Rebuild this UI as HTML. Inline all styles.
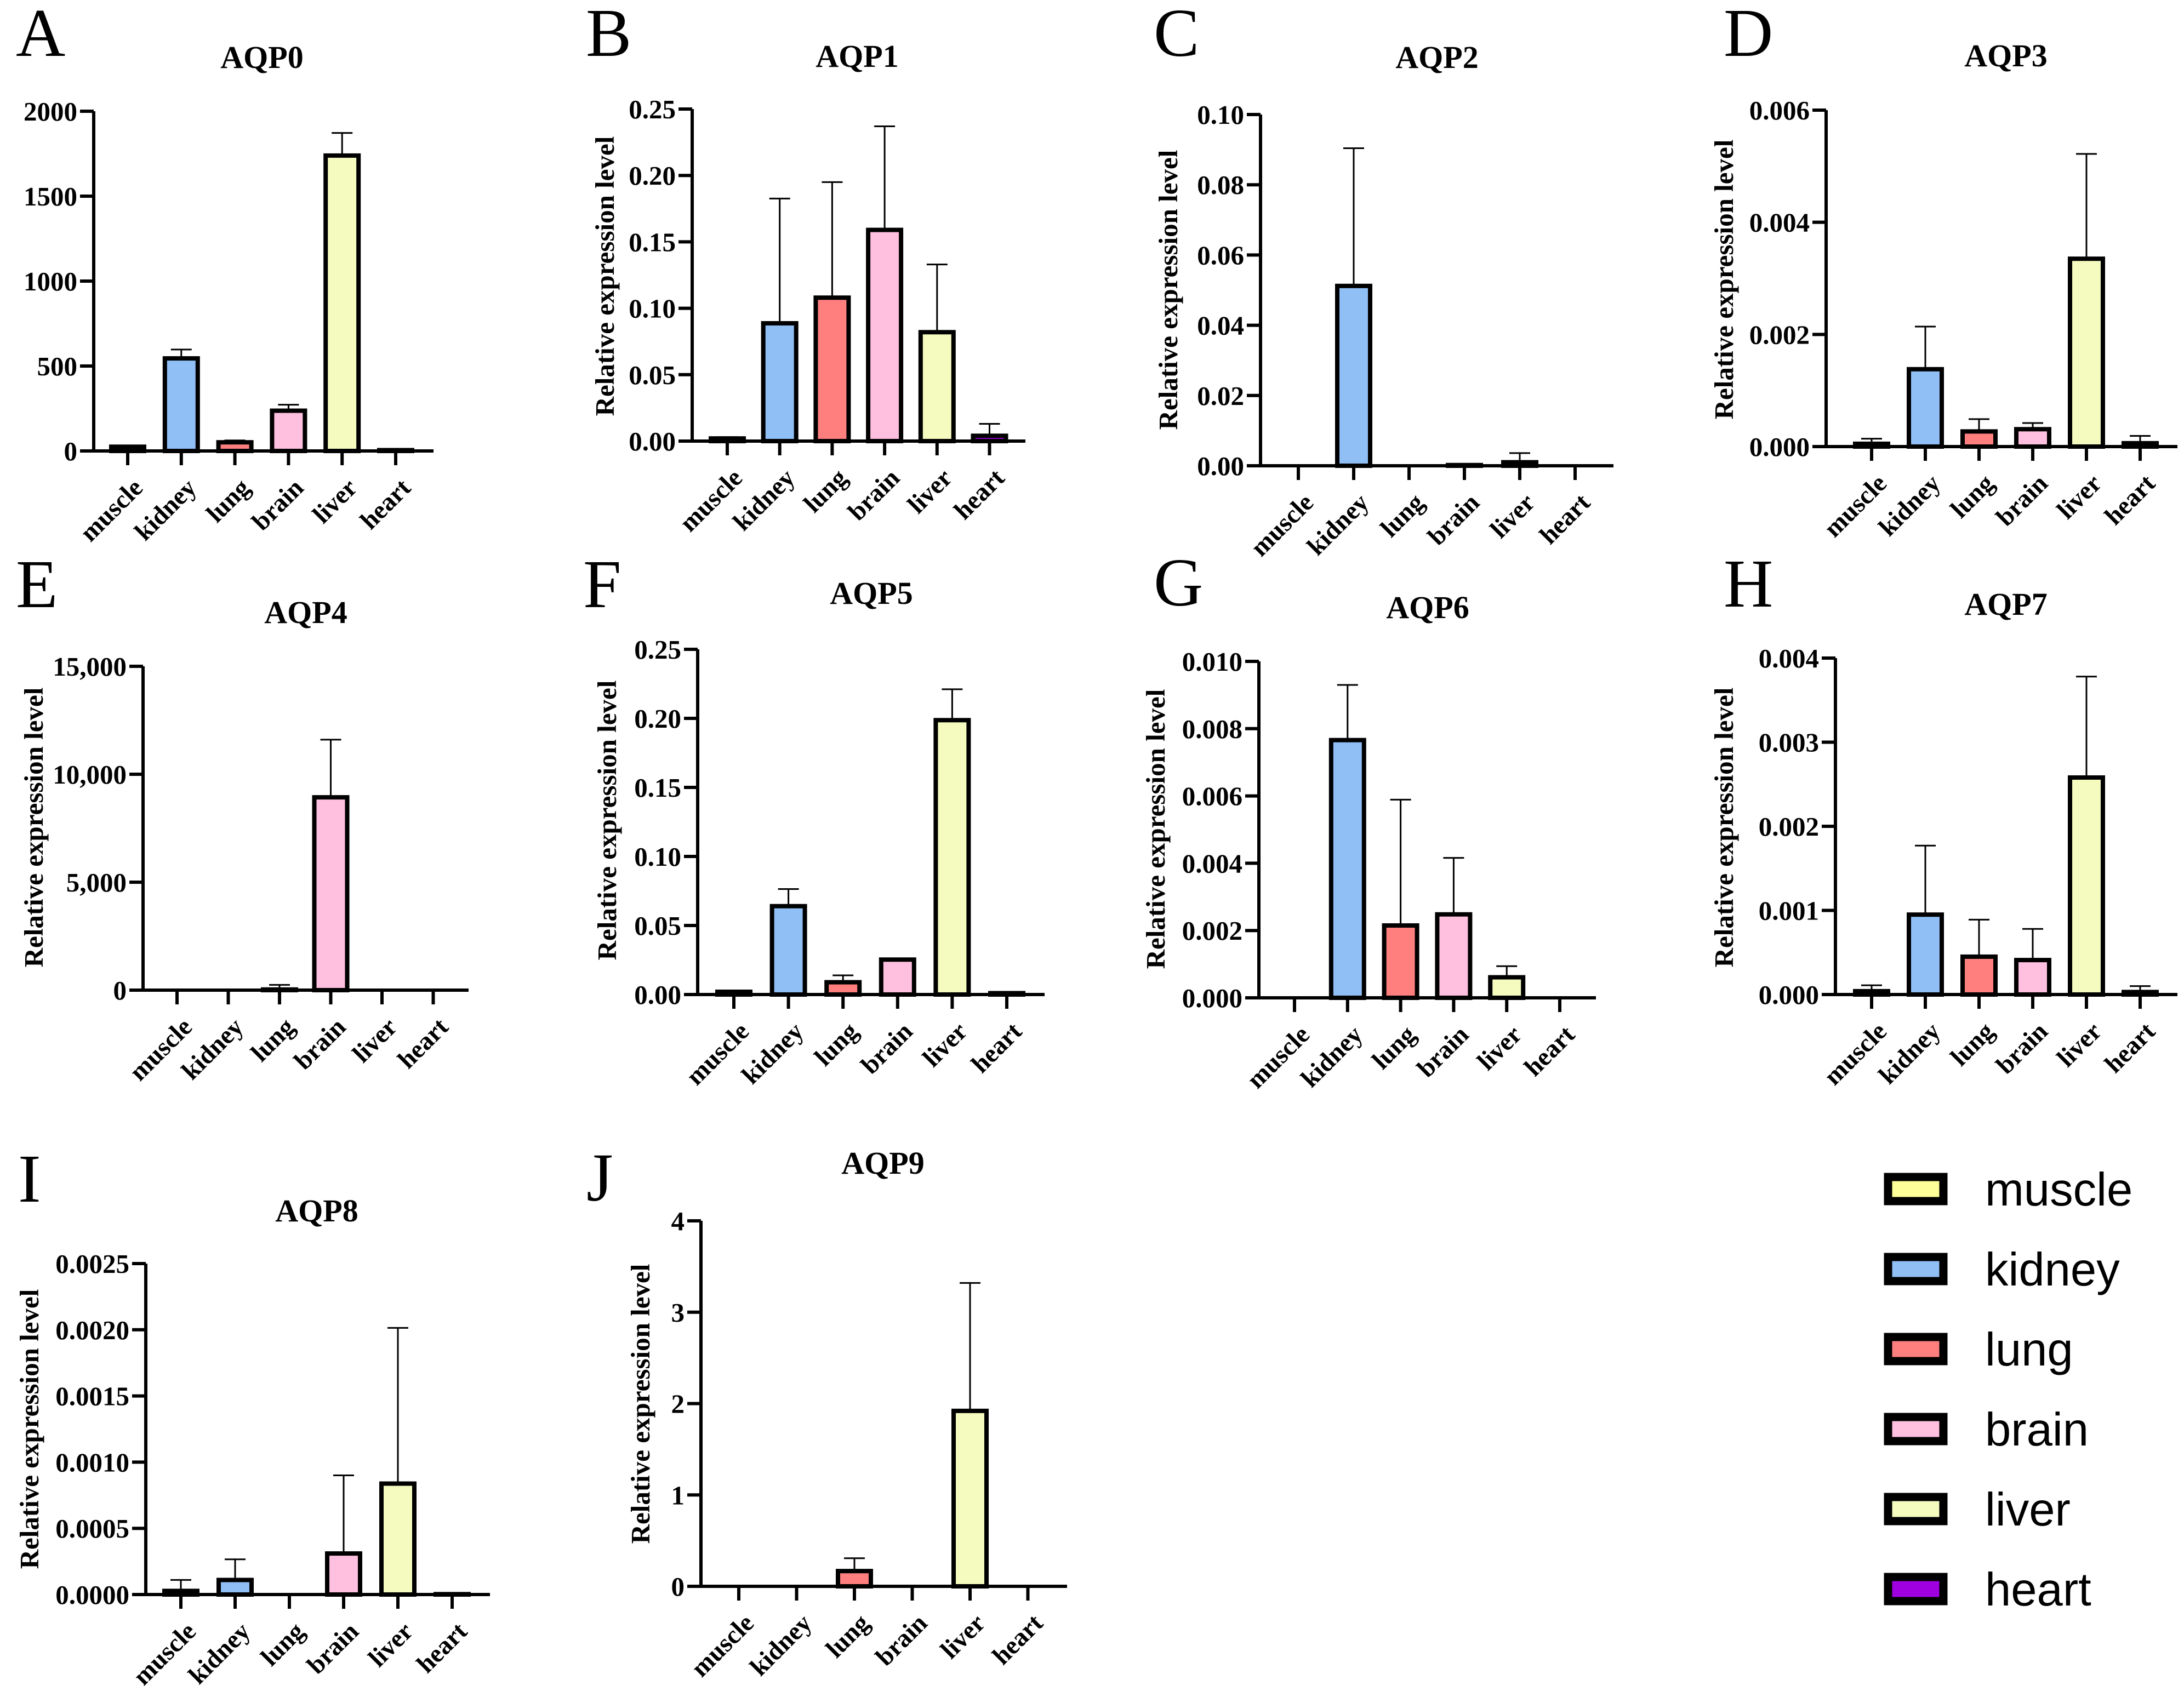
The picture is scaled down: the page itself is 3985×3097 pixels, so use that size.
<!DOCTYPE html>
<html><head><meta charset="utf-8"><style>
html,body{margin:0;padding:0;background:#fff}
svg text{font-family:"Liberation Serif",serif;font-weight:bold;fill:#000}
</style></head><body>
<svg id="fig" width="3985" height="3092" viewBox="0 0 3985 3092" xmlns="http://www.w3.org/2000/svg">
<rect width="3985" height="3092" fill="#fff"/>
</svg>
<script>
const categories = ["muscle","kidney","lung","brain","liver","heart"];
const colors = ["#ffff99","#8fbff5","#ff7f7f","#ffbfdf","#f5fbbf","#a000e0"];
const aqp0Values = [25,545,51,237,1739,5];
const aqp0Errors = [30,597,62,272,1872,10];
const aqp1Values = [0.002,0.0887,0.108,0.159,0.082,0.004];
const aqp1Errors = [0.003,0.1826,0.195,0.237,0.133,0.013];
const aqp2Values = [0,0.0512,0,0.0002,0.001,0];
const aqp2Errors = [0,0.0904,0,0.0002,0.0036,0];
const aqp3Values = [0.00005,0.00138,0.00027,0.00031,0.00335,0.00006];
const aqp3Errors = [0.00014,0.00214,0.00049,0.00042,0.00522,0.00019];
const aqp4Values = [0,0,30,8932,0,0];
const aqp4Errors = [0,0,243,11602,0,0];
const aqp5Values = [0.002,0.064,0.0089,0.0253,0.1987,0.001];
const aqp5Errors = [0.003,0.0764,0.0139,0.0253,0.2211,0.0015];
const aqp6Values = [0,0.00766,0.00215,0.00248,0.00061,0];
const aqp6Errors = [0,0.0093,0.00589,0.00416,0.00094,0];
const aqp7Values = [0.00004,0.00095,0.00045,0.00041,0.00258,0.00003];
const aqp7Errors = [0.00011,0.00177,0.00089,0.00078,0.00378,0.0001];
const aqp8Values = [0.0000275,0.00011,0,0.00031,0.000838,0.000003];
const aqp8Errors = [0.00011,0.000266,0,0.0009,0.002014,0.000003];
const aqp9Values = [0,0,0.167,0,1.92,0];
const aqp9Errors = [0,0,0.307,0,3.32,0];
const ticks0 = [0,500,1000,1500,2000];
const tickLabels0 = ["0","500","1000","1500","2000"];
const ticks1 = [0,0.05,0.10,0.15,0.20,0.25];
const tickLabels1 = ["0.00","0.05","0.10","0.15","0.20","0.25"];
const ticks2 = [0,0.02,0.04,0.06,0.08,0.10];
const tickLabels2 = ["0.00","0.02","0.04","0.06","0.08","0.10"];
const ticks3 = [0,0.002,0.004,0.006];
const tickLabels3 = ["0.000","0.002","0.004","0.006"];
const ticks4 = [0,5000,10000,15000];
const tickLabels4 = ["0","5,000","10,000","15,000"];
const ticks6 = [0,0.002,0.004,0.006,0.008,0.010];
const tickLabels6 = ["0.000","0.002","0.004","0.006","0.008","0.010"];
const ticks7 = [0,0.001,0.002,0.003,0.004];
const tickLabels7 = ["0.000","0.001","0.002","0.003","0.004"];
const ticks8 = [0,0.0005,0.0010,0.0015,0.0020,0.0025];
const tickLabels8 = ["0.0000","0.0005","0.0010","0.0015","0.0020","0.0025"];
const ticks9 = [0,1,2,3,4];
const tickLabels9 = ["0","1","2","3","4"];

const NS="http://www.w3.org/2000/svg";
const svg=document.getElementById('fig');
function mk(tag,attrs,parent){const e=document.createElementNS(NS,tag);for(const k in attrs)e.setAttribute(k,attrs[k]);(parent||svg).appendChild(e);return e;}

const panels=[
 {id:"a",letter:"A",title:"AQP0",vals:aqp0Values,errs:aqp0Errors,ticks:ticks0,tl:tickLabels0,ax:171,top:203,zero:823,end:791,c0:233,sp:97.8,tx:478,ty:124,lx:29,ly:102,ylab:false},
 {id:"b",letter:"B",title:"AQP1",vals:aqp1Values,errs:aqp1Errors,ticks:ticks1,tl:tickLabels1,ax:1263,top:199,zero:805,end:1871,c0:1327,sp:95.7,tx:1564,ty:122,lx:1069,ly:102,ylab:true,yx:1120,yc:504},
 {id:"c",letter:"C",title:"AQP2",vals:aqp2Values,errs:aqp2Errors,ticks:ticks2,tl:tickLabels2,ax:2300,top:209,zero:850,end:2944,c0:2369,sp:101,tx:2622,ty:124,lx:2105,ly:102,ylab:true,yx:2148,yc:529},
 {id:"d",letter:"D",title:"AQP3",vals:aqp3Values,errs:aqp3Errors,ticks:ticks3,tl:tickLabels3,ax:3332,top:201,zero:815,end:3973,c0:3415,sp:98,tx:3660,ty:121,lx:3145,ly:102,ylab:true,yx:3162,yc:510},
 {id:"e",letter:"E",title:"AQP4",vals:aqp4Values,errs:aqp4Errors,ticks:ticks4,tl:tickLabels4,ax:261,top:1216,zero:1807,end:855,c0:323,sp:93.5,tx:558,ty:1137,lx:29,ly:1108,ylab:true,yx:78,yc:1510},
 {id:"f",letter:"F",title:"AQP5",vals:aqp5Values,errs:aqp5Errors,ticks:ticks1,tl:tickLabels1,ax:1273,top:1185,zero:1815,end:1906,c0:1339,sp:99.6,tx:1590,ty:1102,lx:1064,ly:1108,ylab:true,yx:1124,yc:1497},
 {id:"g",letter:"G",title:"AQP6",vals:aqp6Values,errs:aqp6Errors,ticks:ticks6,tl:tickLabels6,ax:2297,top:1207,zero:1821,end:2912,c0:2362,sp:96.8,tx:2605,ty:1128,lx:2105,ly:1105,ylab:true,yx:2125,yc:1513},
 {id:"h",letter:"H",title:"AQP7",vals:aqp7Values,errs:aqp7Errors,ticks:ticks7,tl:tickLabels7,ax:3349,top:1201,zero:1815,end:3973,c0:3415,sp:98,tx:3660,ty:1122,lx:3145,ly:1107,ylab:true,yx:3162,yc:1510},
 {id:"i",letter:"I",title:"AQP8",vals:aqp8Values,errs:aqp8Errors,ticks:ticks8,tl:tickLabels8,ax:266,top:2306,zero:2910,end:894,c0:330,sp:99,tx:578,ty:2229,lx:33,ly:2193,ylab:true,yx:70,yc:2608},
 {id:"j",letter:"J",title:"AQP9",vals:aqp9Values,errs:aqp9Errors,ticks:ticks9,tl:tickLabels9,ax:1279,top:2228,zero:2895,end:1947,c0:1348,sp:105.5,tx:1611,ty:2142,lx:1070,ly:2191,ylab:true,yx:1185,yc:2562}
];

panels.forEach(p=>{
  const g=mk('g',{});
  
  
  const tmax=p.ticks[p.ticks.length-1];
  const y=v=>p.zero-(v/tmax)*(p.zero-p.top);
  const x=i=>p.c0+i*p.sp;
  const L=mk('text',{x:p.lx,y:p.ly,'font-size':125,style:'font-weight:normal'},g);L.textContent=p.letter;
  
  
  const T=mk('text',{x:p.tx,y:p.ty,'font-size':58,'text-anchor':'middle'},g);T.textContent=p.title;
  
  
  if(p.ylab){
    const Y=mk('text',{x:p.yx,y:p.yc,'font-size':49,'text-anchor':'middle',transform:'rotate(-90 '+p.yx+' '+p.yc+')'},g);Y.textContent='Relative expression level';
    
    
  }
  p.vals.forEach((v,i)=>{
    const bw=60, cx=x(i), yt=y(v);
    const e=p.errs[i];
    if(e>v){
      const ey=y(e);
      const l=mk('line',{x1:cx,x2:cx,y1:yt,y2:ey,stroke:'#000','stroke-width':3},g);
      
      
      const c=mk('line',{x1:cx-19,x2:cx+19,y1:ey,y2:ey,stroke:'#000','stroke-width':3},g);
      
      
    }
    if(v>0){
      const h=Math.max(p.zero-yt,0);
      const r=mk('rect',{x:cx-bw/2,y:yt,width:bw,height:h,fill:colors[i],stroke:'#000','stroke-width':8},g);
      
      
    }
    const tk=mk('line',{x1:cx,x2:cx,y1:p.zero,y2:p.zero+26,stroke:'#000','stroke-width':6},g);
    
    
    const ax=cx+30, ay=p.zero+70;
    const xl=mk('text',{x:ax,y:ay,'font-size':47,'text-anchor':'end',transform:'rotate(-45 '+ax+' '+ay+')'},g);
    xl.textContent=categories[i];
    
    
  });
  const ya=mk('line',{x1:p.ax,x2:p.ax,y1:p.top,y2:p.zero+3,stroke:'#000','stroke-width':6},g);
  
  
  const xa=mk('line',{x1:p.ax-25,x2:p.end,y1:p.zero,y2:p.zero,stroke:'#000','stroke-width':6},g);
  
  
  p.ticks.forEach((t,k)=>{
    const ty=y(t);
    const tl=mk('line',{x1:p.ax-25,x2:p.ax,y1:ty,y2:ty,stroke:'#000','stroke-width':6},g);
    
    
    const lb=mk('text',{x:p.ax-30,y:ty+17,'font-size':49,'text-anchor':'end'},g);
    lb.textContent=p.tl[k];
    
    
  });
});

const lg=mk('g',{});


categories.forEach((c,i)=>{
  const cy=2170+i*146;
  const r=mk('rect',{x:3445,y:cy-22,width:101,height:44,fill:colors[i],stroke:'#000','stroke-width':15},lg);
  
  
  const t=mk('text',{x:3622,y:cy+30,'font-size':85,style:'font-family:"Liberation Sans",sans-serif;font-weight:normal'},lg);
  t.textContent=c;
  
  
});
</script>
</body></html>
